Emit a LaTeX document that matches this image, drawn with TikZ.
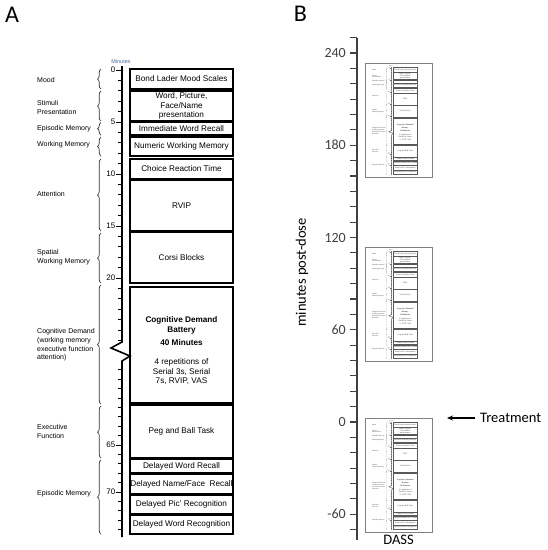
\documentclass[tikz,border=0pt]{standalone}
\usepackage{fontspec}
\setmainfont{Liberation Sans}
\newfontfamily\calib{Carlito}
\usetikzlibrary{arrows.meta,positioning,decorations.pathreplacing}
\definecolor{minblue}{RGB}{70,105,160}
\definecolor{axgray}{RGB}{64,64,64}
\newcommand{\boxfont}{\fontsize{8.2}{9.6}\selectfont}
\newcommand{\grpfont}{\fontsize{7}{8.6}\selectfont}
\tikzset{
  pbox/.style={draw, line width=1.3pt, minimum width=103pt, inner sep=0.5pt, align=center, font=\boxfont},
  ptext/.style={inner sep=0pt, align=center, font=\boxfont},
  pgrp/.style={anchor=west, align=left, inner sep=0pt, font=\grpfont},
  paxis/.style={line width=1.6pt, line join=miter},
  ptick/.style={line width=1pt},
  pbrace/.style={decorate, decoration={brace, amplitude=3.5pt}, line width=0.7pt, draw=black!80},
  tlbl/.style={anchor=east, inner sep=0pt, font=\fontsize{8}{9}\selectfont},
  minlbl/.style={inner sep=0pt, text=minblue, font=\fontsize{5.5}{6}\selectfont},
  baxis/.style={draw=axgray, line width=1.5pt},
  btick/.style={draw=axgray, line width=1.2pt},
  blbl/.style={anchor=east, inner sep=0pt, text=axgray, font=\calib\fontsize{14}{16}\selectfont},
  tframe/.style={draw=gray, line width=0.8pt, minimum width=67pt, minimum height=114pt, inner sep=0pt},
  btxt/.style={inner sep=0pt, font=\calib\fontsize{14.5}{17}\selectfont},
  plbl/.style={inner sep=0pt, font=\calib\fontsize{24}{28}\selectfont},
  treatarrow/.style={-{Stealth[length=6pt,width=5pt]}, line width=1.4pt}
}

% the test session timeline (panel A), drawn again small in panel B
\newcommand{\drawpanel}[1]{%
  \node[minlbl] (#1min) at (121,62) {Minutes};
  \draw[paxis] (122,66) -- (122,342) -- (111,348) -- (130,356) -- (122,361) -- (122,537);
  \foreach \m in {0,...,26}
    \draw[ptick] (118,{70+10.4*\m}) -- (122,{70+10.4*\m});
  \foreach \m in {0,5,...,20}{
    \draw[ptick] (116,{70+10.4*\m}) -- (122,{70+10.4*\m});
    \node[tlbl] (#1t\m) at (115.5,{70+10.4*\m}) {\m};}
  \foreach \m in {57,...,74}
    \draw[ptick] (118,{492+9.4*(\m-70)}) -- (122,{492+9.4*(\m-70)});
  \foreach \m in {65,70}{
    \draw[ptick] (116,{492+9.4*(\m-70)}) -- (122,{492+9.4*(\m-70)});
    \node[tlbl] (#1t\m) at (115.5,{492+9.4*(\m-70)}) {\m};}

  \node[pbox, minimum height=20pt] (#1bond) at (181.5,79) {Bond Lader Mood Scales};
  \node[pbox, minimum height=30pt] (#1wpp) at (181.5,106) {Word, Picture,\\Face/Name\\presentation};
  \node[pbox, minimum height=12.5pt] (#1iwr) at (181.5,128.75) {Immediate Word Recall};
  \node[pbox, minimum height=19pt] (#1nwm) at (181.5,146.5) {Numeric Working Memory};
  \node[pbox, minimum height=19.5pt] (#1crt) at (181.5,168.75) {Choice Reaction Time};
  \node[pbox, minimum height=51pt] (#1rvip) at (181.5,205.5) {RVIP};
  \node[pbox, minimum height=50.5pt] (#1corsi) at (181.5,257.75) {Corsi Blocks};
  \node[pbox, minimum height=116pt] (#1cdb) at (181.5,345) {};
  \node[ptext] (#1cdbtxt) at (181.5,351) {\textbf{Cognitive Demand}\\\textbf{Battery}\\[3.5pt]\textbf{40 Minutes}\\[9.5pt]4 repetitions of\\Serial 3s, Serial\\7s, RVIP, VAS};
  \node[pbox, minimum height=53pt] (#1peg) at (181.5,431.5) {Peg and Ball Task};
  \node[pbox, minimum height=13.5pt] (#1dwr) at (181.5,466.25) {Delayed Word Recall};
  \node[pbox, minimum height=19.5pt, inner xsep=0pt] (#1dnf) at (181.5,484.25) {Delayed Name/Face\ \ Recall};
  \node[pbox, minimum height=18.5pt] (#1dpr) at (181.5,504.75) {Delayed Pic' Recognition};
  \node[pbox, minimum height=18.5pt] (#1dwrec) at (181.5,524.75) {Delayed Word Recognition};

  \node[pgrp] (#1gmood) at (37,80) {Mood};
  \node[pgrp] (#1gstim) at (37,107.5) {Stimuli\\Presentation};
  \node[pgrp] (#1gepi) at (37,129) {Episodic Memory};
  \node[pgrp] (#1gwm) at (37,145) {Working Memory};
  \node[pgrp] (#1gatt) at (37,194) {Attention};
  \node[pgrp] (#1gspat) at (37,257) {Spatial\\Working Memory};
  \node[pgrp] (#1gcog) at (37,345) {Cognitive Demand\\(working memory\\executive function\\attention)};
  \node[pgrp] (#1gexe) at (37,431.5) {Executive\\Function};
  \node[pgrp] (#1gdel) at (37,494) {Episodic Memory};

  \draw[pbrace] (101,89) -- (101,69);
  \draw[pbrace] (101,121) -- (101,91);
  \draw[pbrace] (101,135) -- (101,122.5);
  \draw[pbrace] (101,156) -- (101,137);
  \draw[pbrace] (101,231) -- (101,159);
  \draw[pbrace] (101,283) -- (101,233);
  \draw[pbrace] (101,404) -- (101,285);
  \draw[pbrace] (101,458) -- (101,406);
  \draw[pbrace] (101,534) -- (101,460);
}

\begin{document}
\begin{tikzpicture}[x=1pt,y=-1pt]
\useasboundingbox (0,0) rectangle (548,550);

% panel A
\node[plbl] (pa) at (12,14.5) {A};
\drawpanel{a}

% panel B
\node[plbl] (pb) at (300.5,14) {B};
\draw[baxis] (357,38) -- (357,540);
\foreach \m in {-70,-60,...,250}
  \draw[btick] (350,{422-1.5375*\m}) -- (357,{422-1.5375*\m});
\foreach \m [count=\i] in {-60,0,...,240}
  \node[blbl] (bt\i) at (346,{422-1.5375*\m}) {\m};
\node[btxt, rotate=90] (ylab) at (302,272.5) {minutes post-dose};

\node[tframe] (fa) at (398.5,120) {};
\node[tframe] (fb) at (398.5,304.5) {};
\node[tframe] (fc) at (398.5,475) {};
\foreach \ty/\tn in {51.7/ta,235.7/tb,406.7/tc}{
  \begin{scope}[shift={(363.5,\ty)}, scale=0.23, transform shape,
      draw=black!65, text=black!70,
      pbox/.append style={line width=0.4pt, draw=black!65},
      paxis/.append style={line width=0.4pt, draw=black!65},
      ptick/.append style={line width=0.2pt, draw=black!60},
      pbrace/.append style={line width=0.2pt, draw=black!60, decoration={amplitude=0.7pt}}]
    \drawpanel{\tn}
  \end{scope}
}
\node[btxt] (dass) at (398.5,540) {DASS};

\coordinate (zeroline) at (447,418);
\node[btxt, anchor=west, inner xsep=5pt] (treat) at (475,418) {Treatment};
\draw[treatarrow] (treat.west) -- (zeroline);
\end{tikzpicture}
\end{document}
